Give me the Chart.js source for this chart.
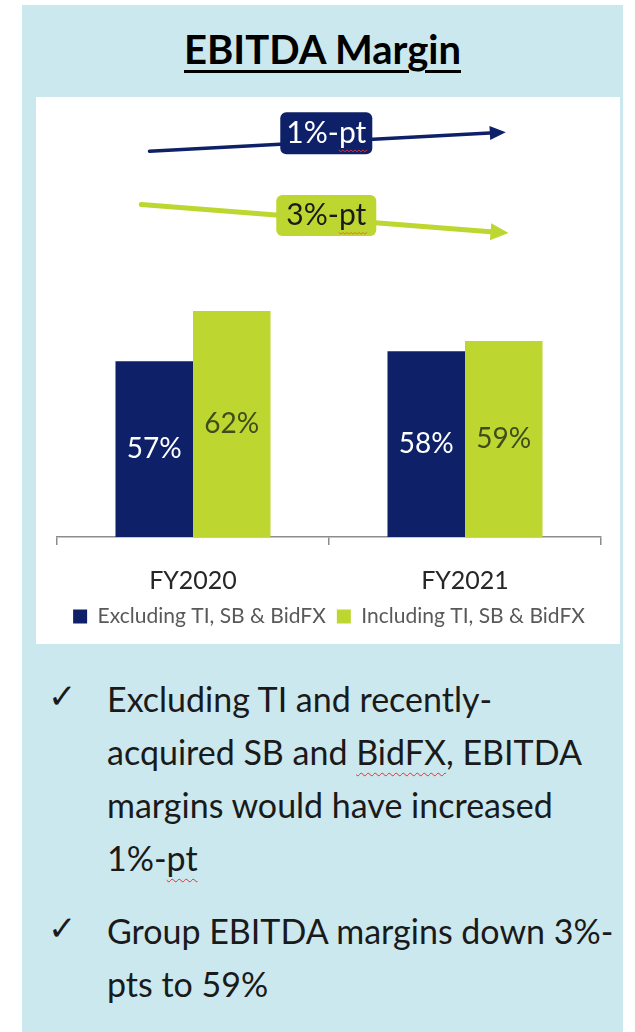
<!DOCTYPE html>
<html>
<head>
<meta charset="utf-8">
<script src="https://cdn.jsdelivr.net/npm/chart.js@4"></script>
<style>
  body { margin: 0; background: #fff; font-family: Lato, "Open Sans", sans-serif; }
  .painel { position: absolute; left: 22px; top: 5px; width: 601px; height: 1040px; background: #cce8ef; }
  .titulo { position: absolute; left: 0; width: 601px; top: 20px; text-align: center; font-size: 40px; font-weight: bold; color: #000; }
  .titulo span { text-decoration: underline; text-decoration-thickness: 3px; text-underline-offset: 6px; }
  .caixa { position: absolute; left: 14px; top: 92px; width: 584px; height: 547px; background: #fff; }
  .texto { position: absolute; left: 26px; top: 667px; width: 575px; margin: 0; padding: 0; list-style: none; font-size: 34px; line-height: 53px; color: #1a1a1a; white-space: nowrap; }
  .texto li { position: relative; padding-left: 59px; margin-bottom: 20px; }
  .texto li::before { content: "\2713"; position: absolute; left: 0; top: -2px; font-family: "DejaVu Sans"; font-size: 34px; }
  .sp { text-decoration: underline wavy #e03030; text-decoration-thickness: 1px; text-underline-offset: 7px; }
</style>
</head>
<body>
<div class="painel">
  <div class="titulo"><span>EBITDA Margin</span></div>
  <div class="caixa"><canvas id="grafico"></canvas></div>
  <ul class="texto">
    <li>Excluding TI and recently-<br>acquired SB and <span class="sp">BidFX</span>, EBITDA<br>margins would have increased<br>1%-<span class="sp">pt</span></li>
    <li>Group EBITDA margins down 3%-<br>pts to 59%</li>
  </ul>
</div>
<script>
// dados do gráfico
const categorias = ['FY2020', 'FY2021'];
const excluindo = [57, 58];
const incluindo = [62, 59];
const nomesSeries = ['Excluding TI, SB & BidFX', 'Including TI, SB & BidFX'];
const rotulosSetas = ['1%-pt', '3%-pt'];

const azul = '#0e2068';
const verde = '#bdd630';

// rótulos no meio das barras
const rotulosBarras = {
    id: 'rotulosBarras',
    afterDatasetsDraw(chart) {
        const ctx = chart.ctx;
        const fundo = chart.chartArea.bottom;
        ctx.save();
        ctx.font = '28px Lato';
        ctx.textAlign = 'center';
        ctx.textBaseline = 'middle';
        chart.data.datasets.forEach((ds, i) => {
            chart.getDatasetMeta(i).data.forEach((barra, j) => {
                ctx.fillStyle = i === 0 ? '#ffffff' : '#3f4d1c';
                ctx.fillText(ds.data[j] + '%', barra.x, (barra.y + fundo) / 2);
            });
        });
        ctx.restore();
    }
};

// setas de variação desenhadas nas escalas do gráfico
function desenharSeta(ctx, x1, y1, x2, y2, cor, largura, comp, abertura) {
    const ang = Math.atan2(y2 - y1, x2 - x1);
    const bx = x2 - comp * Math.cos(ang);
    const by = y2 - comp * Math.sin(ang);
    ctx.strokeStyle = cor;
    ctx.fillStyle = cor;
    ctx.lineWidth = largura;
    ctx.lineCap = 'round';
    ctx.beginPath();
    ctx.moveTo(x1, y1);
    ctx.lineTo(bx, by);
    ctx.stroke();
    ctx.beginPath();
    ctx.moveTo(x2, y2);
    ctx.lineTo(bx + abertura / 2 * Math.sin(ang), by - abertura / 2 * Math.cos(ang));
    ctx.lineTo(bx - abertura / 2 * Math.sin(ang), by + abertura / 2 * Math.cos(ang));
    ctx.closePath();
    ctx.fill();
}

function desenharEtiqueta(ctx, cx, cy, texto, fundo, corTexto, corOndas, larg, alt) {
    ctx.fillStyle = fundo;
    ctx.beginPath();
    ctx.roundRect(cx - larg / 2, cy - alt / 2, larg, alt, 6);
    ctx.fill();
    ctx.font = '30px Lato';
    ctx.textAlign = 'center';
    ctx.textBaseline = 'middle';
    ctx.fillStyle = corTexto;
    ctx.fillText(texto, cx, cy);
    // sublinhado ondulado sob "pt"
    const total = ctx.measureText(texto).width;
    const antes = ctx.measureText(texto.slice(0, -2)).width;
    let ox = cx - total / 2 + antes;
    const fim = cx + total / 2;
    const oy = cy + 17;
    ctx.strokeStyle = corOndas;
    ctx.lineWidth = 1;
    ctx.beginPath();
    ctx.moveTo(ox, oy);
    let k = 0;
    while (ox < fim) {
        ox += 2;
        ctx.lineTo(ox, oy + (k++ % 2 ? 0 : 1.5));
    }
    ctx.stroke();
}

const setas = {
    id: 'setas',
    afterDatasetsDraw(chart) {
        const { ctx, scales: { x, y } } = chart;
        const p0 = x.getPixelForValue(0);
        const passo = x.getPixelForValue(1) - p0;
        const px = v => p0 + v * passo;
        ctx.save();
        desenharSeta(ctx, px(-0.16), y.getPixelForValue(77.9), px(1.15), y.getPixelForValue(79.8), azul, 3.5, 16, 14);
        desenharSeta(ctx, px(-0.19), y.getPixelForValue(72.6), px(1.16), y.getPixelForValue(69.75), verde, 5, 18, 17);
        desenharEtiqueta(ctx, px(0.49), y.getPixelForValue(79.7), rotulosSetas[0], azul, '#ffffff', '#e03030', 92, 42);
        desenharEtiqueta(ctx, px(0.49), y.getPixelForValue(71.5), rotulosSetas[1], verde, '#1a1a1a', '#d08020', 100, 41);
        ctx.restore();
    }
};

document.addEventListener('DOMContentLoaded', () => {
    const ctx = document.getElementById('grafico').getContext('2d');
    new Chart(ctx, {
        type: 'bar',
        data: {
            labels: categorias,
            datasets: [
                { label: nomesSeries[0], data: excluindo, backgroundColor: azul },
                { label: nomesSeries[1], data: incluindo, backgroundColor: verde }
            ]
        },
        options: {
            responsive: true,
            maintainAspectRatio: false,
            animation: false,
            categoryPercentage: 0.57,
            barPercentage: 1.0,
            layout: { padding: { left: 21, right: 19, top: 3, bottom: 7 } },
            scales: {
                y: { display: false, min: 39.5, max: 83 },
                x: {
                    border: { display: true, color: '#8c8c8c', width: 1.5 },
                    grid: { drawOnChartArea: false, drawTicks: true, tickLength: 8, color: '#8c8c8c', lineWidth: 1.5 },
                    ticks: { color: '#262626', font: { family: 'Lato', size: 25 }, padding: 21 },
                    afterFit: (escala) => { escala.height -= 22; }
                }
            },
            plugins: {
                tooltip: { enabled: false },
                legend: {
                    position: 'bottom',
                    labels: {
                        boxWidth: 14,
                        boxHeight: 14,
                        padding: 11,
                        color: '#595959',
                        font: { family: 'Lato', size: 21 }
                    }
                }
            }
        },
        plugins: [rotulosBarras, setas]
    });
});
</script>
</body>
</html>
